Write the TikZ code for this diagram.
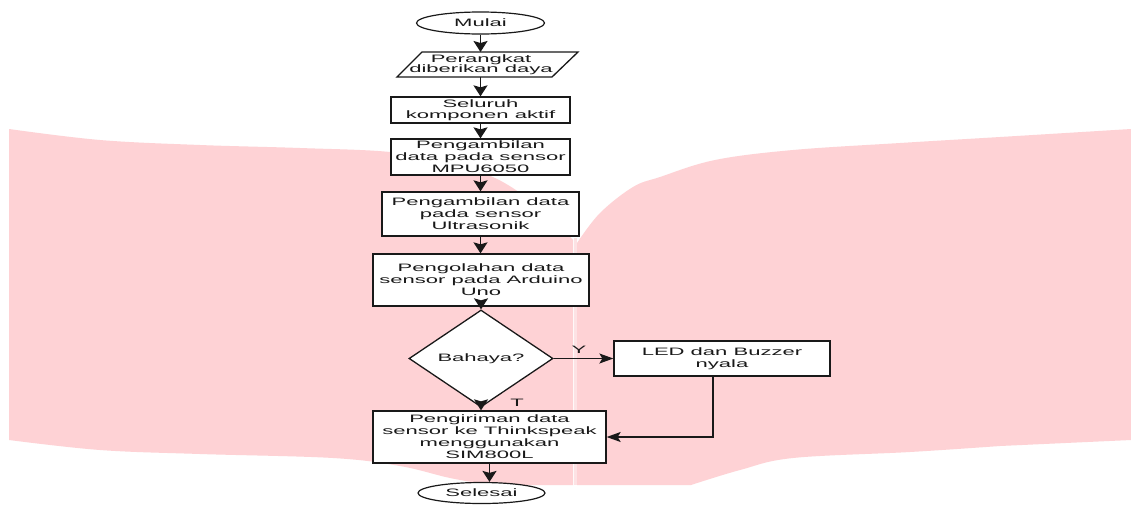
\documentclass[tikz,border=0pt]{standalone}
\usepackage{fontspec}
\setmainfont{Liberation Sans}[FakeStretch=2.05]
\usetikzlibrary{shapes.geometric,arrows.meta}
\definecolor{pinkbg}{RGB}{254,210,213}
\definecolor{spinec}{RGB}{253,226,228}
\definecolor{ink}{RGB}{25,25,25}
\begin{document}
\begin{tikzpicture}[x=1pt,y=-1pt,
  every node/.style={font=\fontsize{10.75}{12}\selectfont, text=ink},
  box/.style={draw=ink, line width=1.3pt, fill=white, rectangle, inner sep=0pt, align=center},
  term/.style={draw=ink, line width=1.2pt, fill=white, ellipse, inner sep=0pt},
  varr/.style={draw=ink, line width=1.6pt, -{Stealth[length=11pt,width=14pt,inset=2pt]}},
  harr/.style={draw=ink, line width=1.3pt, -{Stealth[length=14pt,width=10pt,inset=3pt]}},
  lbl/.style={inner sep=0pt}]
\useasboundingbox (0,0) rectangle (1131,504);
\fill[white] (0,0) rectangle (1131,504);
% background watermark
\fill[pinkbg] plot[smooth,tension=0.6] coordinates {(9,129) (100,140) (200,145) (300,148) (390,152) (450,163) (495,178) (530,200) (556,222) (573,240)} -- (573,485) -- plot[smooth,tension=0.6] coordinates {(490,485) (450,478) (400,466) (333,458) (200,454) (100,450) (9,440)} -- cycle;
\fill[pinkbg] plot[smooth,tension=0.6] coordinates {(577,243) (600,213) (633,187) (660,177) (715,160) (793,150) (900,143) (1000,137) (1131,129)} -- (1131,440) -- plot[smooth,tension=0.6] coordinates {(1000,446) (910,452) (793,458) (740,470) (691,485)} -- (577,485) -- cycle;
\draw[spinec, line width=3pt] (575,238) -- (575,485);
% flowchart
\node[term, minimum width=128pt, minimum height=22pt] (mulai) at (480.5,23) {Mulai};
\coordinate (parTop) at (480.5,52);
\coordinate (parBot) at (480.5,77);
\draw[draw=ink, line width=1.3pt, fill=white] (397,77) -- (422,52) -- (578,52) -- (552,77) -- cycle;
\node[align=center, inner sep=0pt, font=\fontsize{10.75}{10.5}\selectfont] (par) at (481,64.5) {Perangkat\\diberikan daya};
\node[box, minimum width=179pt, minimum height=26pt, font=\fontsize{10.75}{10.5}\selectfont] (aktif) at (480.5,110) {Seluruh\\komponen aktif};
\node[box, minimum width=179pt, minimum height=36pt] (mpu) at (480.5,157) {Pengambilan\\data pada sensor\\MPU6050};
\node[box, minimum width=197pt, minimum height=44pt] (ultra) at (480.5,214) {Pengambilan data\\pada sensor\\Ultrasonik};
\node[box, minimum width=216pt, minimum height=52pt] (olah) at (481,280) {Pengolahan data\\sensor pada Arduino\\Uno};
\node[draw=ink, line width=1.3pt, fill=white, diamond, minimum width=144pt, minimum height=69pt, inner sep=0pt] (dia) at (481,358.5) {Bahaya?};
\node[box, minimum width=216pt, minimum height=35pt] (led) at (722,358.5) {LED dan Buzzer\\nyala};
\node[box, minimum width=233pt, minimum height=52pt] (kirim) at (489.5,437) {Pengiriman data\\sensor ke Thinkspeak\\menggunakan\\SIM800L};
\node[term, minimum width=127pt, minimum height=21pt] (selesai) at (481.5,493) {Selesai};
\node[lbl] (ylab) at (579,350) {Y};
\node[lbl] (tlab) at (517,403) {T};
% connectors
\draw[varr] (mulai) -- (parTop);
\draw[varr] (parBot) -- (aktif);
\draw[varr] (aktif) -- (mpu);
\draw[varr] (mpu) -- (ultra);
\draw[varr] (ultra.south) -- (ultra.south |- olah.north);
\draw[varr] (olah) -- (dia);
\draw[harr] (dia) -- (led);
\draw[varr] (dia.south) -- (dia.south |- kirim.north);
\coordinate (ledout) at ([xshift=-9pt]led.south);
\draw[harr] (ledout) |- (kirim.east);
\draw[varr] (kirim.south) -- (kirim.south |- selesai.north);
\end{tikzpicture}
\end{document}
